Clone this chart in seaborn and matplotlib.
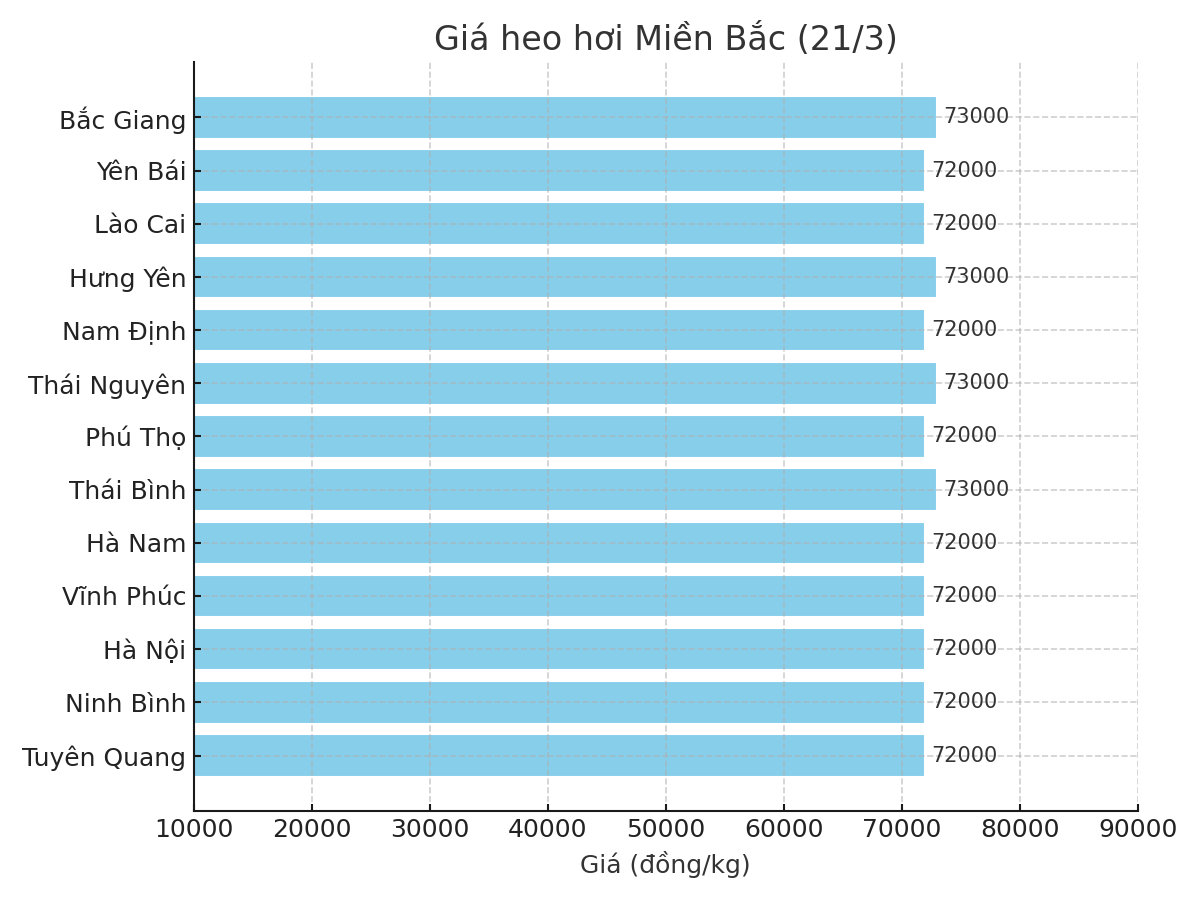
import pandas as pd
import matplotlib.pyplot as plt
import seaborn as sns

# Gia heo hoi mien Bac ngay 21/3
provinces = ['Bắc Giang', 'Yên Bái', 'Lào Cai', 'Hưng Yên', 'Nam Định', 'Thái Nguyên',
             'Phú Thọ', 'Thái Bình', 'Hà Nam', 'Vĩnh Phúc', 'Hà Nội', 'Ninh Bình', 'Tuyên Quang']
prices = [73000, 72000, 72000, 73000, 72000, 73000,
          72000, 73000, 72000, 72000, 72000, 72000, 72000]

df = pd.DataFrame({'Tinh': provinces, 'Gia': prices})

sns.set_style('ticks')
plt.rcParams['font.family'] = ['DejaVu Sans']
plt.rcParams['text.color'] = '#333333'
plt.rcParams['axes.labelcolor'] = '#333333'
plt.rcParams['xtick.color'] = '#222222'
plt.rcParams['ytick.color'] = '#222222'

fig, ax = plt.subplots(figsize=(8, 6), dpi=150)
sns.barplot(data=df, x='Gia', y='Tinh', orient='h', color='#87CEEB',
            saturation=1, width=0.8, ax=ax)

for i, v in enumerate(prices):
    ax.text(v + 500, i, str(v), va='center', ha='left', fontsize=10, color='#333333')

# same margins as plain matplotlib barh (5% of the bar span)
n = len(provinces)
pad = 0.05 * (n - 1 + 0.8)
ax.set_xlim(10000, 90000)
ax.set_ylim(n - 1 + 0.4 + pad, -0.4 - pad)
ax.set_title('Giá heo hơi Miền Bắc (21/3)', fontsize=16, color='#333333')
ax.set_xlabel('Giá (đồng/kg)', fontsize=12)
ax.set_ylabel('')
ax.tick_params(axis='both', labelsize=12, direction='in', length=3.5,
               width=1, pad=3.5, color='#1a1a1a')
ax.grid(True, linestyle='--', color='#b0b0b0', alpha=0.6, linewidth=0.8)
ax.set_axisbelow(False)
sns.despine(ax=ax)
for side in ['left', 'bottom']:
    ax.spines[side].set_color('#1a1a1a')
    ax.spines[side].set_linewidth(1.0)
    ax.spines[side].set_zorder(5)

plt.tight_layout()
plt.savefig('out.png', dpi=150)
